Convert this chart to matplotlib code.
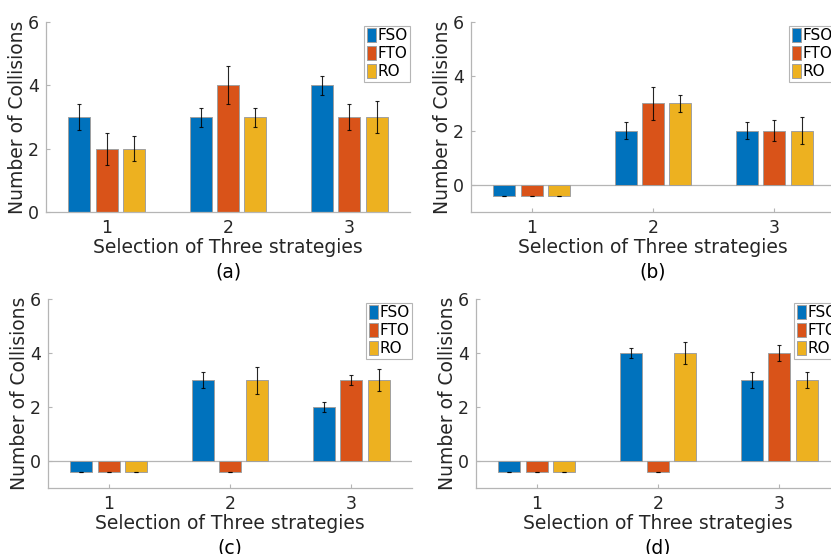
import matplotlib
matplotlib.use("Agg")
import matplotlib.pyplot as plt
import numpy as np

strategies = [1, 2, 3]
series_names = ["FSO", "FTO", "RO"]
series_colors = ["#0072BD", "#D95319", "#EDB120"]
panel_labels = ["(a)", "(b)", "(c)", "(d)"]

# collisions per strategy, one row per series (FSO, FTO, RO)
values_a = [[3, 3, 4], [2, 4, 3], [2, 3, 3]]
errors_a = [[0.4, 0.3, 0.3], [0.5, 0.6, 0.4], [0.4, 0.3, 0.5]]
values_b = [[-0.4, 2, 2], [-0.4, 3, 2], [-0.4, 3, 2]]
errors_b = [[0, 0.3, 0.3], [0, 0.6, 0.4], [0, 0.3, 0.5]]
values_c = [[-0.4, 3, 2], [-0.4, -0.4, 3], [-0.4, 3, 3]]
errors_c = [[0, 0.3, 0.2], [0, 0, 0.2], [0, 0.5, 0.4]]
values_d = [[-0.4, 4, 3], [-0.4, -0.4, 4], [-0.4, 4, 3]]
errors_d = [[0, 0.2, 0.3], [0, 0, 0.3], [0, 0.4, 0.3]]
y_limits = [(0, 6), (-1, 6), (-1, 6), (-1, 6)]

panels = [
    (values_a, errors_a),
    (values_b, errors_b),
    (values_c, errors_c),
    (values_d, errors_d),
]

W, H = 831, 554
fig = plt.figure(figsize=(W / 100, H / 100), dpi=100)

# axes rectangles in pixels: left, top, width, height
rects = [
    (46, 22, 364, 190),
    (471, 22, 364, 190),
    (48, 299, 364, 189),
    (476, 299, 364, 189),
]

spine_grey = "#b5b5b5"
text_dark = "#262626"
offsets = [-0.225, 0.0, 0.225]
bar_width = 0.18

for idx, ((vals, errs), (lx, ty, wd, ht)) in enumerate(zip(panels, rects)):
    ax = fig.add_axes([lx / W, 1 - (ty + ht) / H, wd / W, ht / H])
    x = np.array(strategies, dtype=float)
    for k in range(3):
        ax.bar(x + offsets[k], vals[k], width=bar_width, color=series_colors[k],
               edgecolor="#a0a0a0", linewidth=0.7, label=series_names[k], zorder=2)
        ax.errorbar(x + offsets[k], vals[k], yerr=errs[k], fmt="none",
                    ecolor="black", elinewidth=0.8, capsize=1.2, capthick=0.8,
                    alpha=0.85, zorder=3)
    ylo, yhi = y_limits[idx]
    if ylo < 0:
        ax.axhline(0, color=spine_grey, linewidth=0.9, zorder=1)
    ax.set_xlim(0.5, 3.5)
    ax.set_ylim(ylo, yhi)
    ax.set_xticks(strategies)
    ax.set_yticks([0, 2, 4, 6])
    for side in ("top", "right"):
        ax.spines[side].set_visible(False)
    for side in ("left", "bottom"):
        ax.spines[side].set_color(spine_grey)
        ax.spines[side].set_linewidth(0.9)
    ax.tick_params(direction="in", length=3, color=spine_grey, labelsize=12.5,
                   labelcolor=text_dark, pad=5)
    ax.set_ylabel("Number of Collisions", fontsize=13.5, color=text_dark, labelpad=1)
    ax.set_xlabel("Selection of Three strategies", fontsize=13.5, color=text_dark, labelpad=1)
    ax.annotate(panel_labels[idx], xy=(0.5, 0), xycoords="axes fraction",
                xytext=(0, -43), textcoords="offset points", ha="center",
                va="center", fontsize=13.5, color="black")
    leg = ax.legend(loc="upper right", bbox_to_anchor=(1.0, 0.98), fontsize=11,
                    handlelength=0.6, handleheight=1.0, handletextpad=0.1,
                    borderpad=0.15, labelspacing=0.2, borderaxespad=0.0,
                    fancybox=False, framealpha=1)
    leg.get_frame().set_edgecolor(spine_grey)
    leg.get_frame().set_linewidth(0.8)

fig.savefig("out.png", dpi=100)
